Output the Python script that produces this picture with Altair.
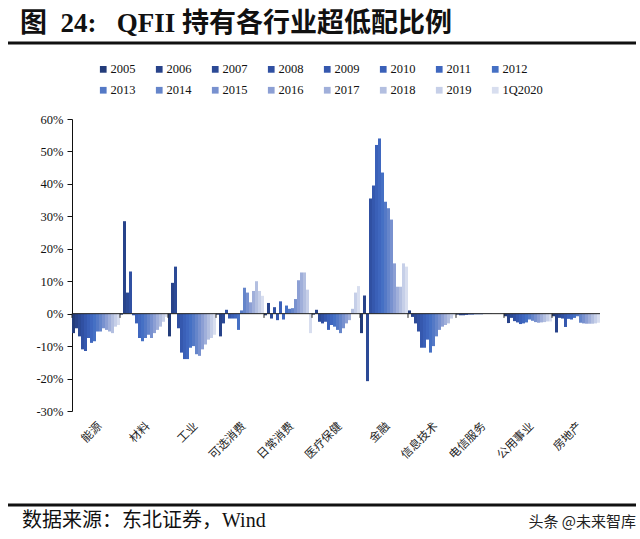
import altair as alt
import pandas as pd

# Sectors and reporting periods
sectors = ["能源", "材料", "工业", "可选消费", "日常消费", "医疗保健",
           "金融", "信息技术", "电信服务", "公用事业", "房地产"]
years = ["2005", "2006", "2007", "2008", "2009", "2010", "2011", "2012",
         "2013", "2014", "2015", "2016", "2017", "2018", "2019", "1Q2020"]

# Over/under-weight ratio (%) per sector, one value per period
energy      = [-6, -4.5, -7, -11, -11.5, -7.5, -9, -8.5, -5.5, -5.5, -4.5, -5, -5.5, -6, -4, -3.5]
materials   = [-0.3, 28.5, 6.5, 13, -0.5, -3, -7.5, -8.5, -7.5, -6.5, -7.5, -6, -5, -4, -2.5, -1]
industrials = [-7, 9.5, 14.5, -4.5, -12, -14, -14, -10.5, -10, -12.5, -13, -11, -9.5, -8, -7.5, -6.5]
cons_disc   = [-0.3, -7, -3, 1.2, -1.5, -1.5, -1.5, -5, 1, 8, 6.5, 3.5, 7, 10, 7, 5.5]
cons_stap   = [-0.5, 3.3, -1.5, 2, -2, 3.8, -1.8, 2.5, 1.5, 1.7, 4.5, 10.3, 12.7, 12.7, 7.4, -6]
healthcare  = [-0.3, 1.2, -2.5, -3, -2.5, -5, -3.5, -4, -5, -6, -4.5, -3, -2, 1.5, 6.5, 8.5]
financials  = [-6, 5.6, -20.8, 35.5, 39.5, 52, 54, 43.5, 34.5, 32.5, 29, 15.5, 8.3, 8.3, 15.5, 14.5]
info_tech   = [1, -1, -3, -5.5, -10.5, -10.5, -8, -12, -10, -7, -5, -4, -3.5, -3, -1.5, -0.5]
telecom     = [-0.3, -0.5, -0.5, -0.4, -0.3, -0.3, -0.2, -0.2, -0.2, -0.1, -0.1, -0.1, 0, 0, 0, 0]
utilities   = [-0.8, -2.9, -1.3, -2.3, -2.7, -3.2, -3, -2.7, -1.8, -2.2, -2.6, -2.8, -2.7, -2.6, -2.4, -2.4]
real_estate = [-0.8, -5.8, -1.3, -1.5, -4.1, -1.6, -1.8, -1.3, -0.8, -2.8, -3, -3.1, -3.1, -3.1, -3, -2.8]

series = [energy, materials, industrials, cons_disc, cons_stap, healthcare,
          financials, info_tech, telecom, utilities, real_estate]

rows = []
for s, vals in zip(sectors, series):
    for y, v in zip(years, vals):
        rows.append({"sector": s, "year": y, "value": v})
df = pd.DataFrame(rows)

palette = ["#233C7A", "#28438A", "#2C4A96", "#3050A2", "#3558AE", "#3A60B8",
           "#3F67BF", "#4570C4", "#5479C6", "#6585CA", "#7891CF", "#8C9FD4",
           "#A0AFDA", "#B3BFE0", "#C6CFE8", "#D8DEEF"]

W, H = 528, 292
serif = "Liberation Serif, Noto Sans CJK SC"
cjk = "Noto Sans CJK SC"
NB = "\u00a0"

x_axis = alt.Axis(labelAngle=-45, domain=False, ticks=False,
                  labelFont=cjk, labelFontSize=11.5, labelColor="#222",
                  labelPadding=9, labelAlign="right", labelBaseline="top")
x_scale = alt.Scale(paddingInner=0, paddingOuter=0)
y_axis = alt.Axis(values=list(range(-30, 61, 10)), grid=False,
                  labelOverlap=False, labelFlush=False,
                  labelExpr="datum.value + '%'", labelFont=serif,
                  labelFontSize=12.5, labelColor="#111", labelPadding=4,
                  domainColor="#111", ticks=True, tickColor="#111", tickSize=5)
y_scale = alt.Scale(domain=[-30, 60], nice=False)

bars = alt.Chart(df).mark_bar().encode(
    x=alt.X("sector:N", sort=sectors, title=None, scale=x_scale, axis=x_axis),
    xOffset=alt.XOffset("year:N", sort=years,
                        scale=alt.Scale(paddingInner=0, paddingOuter=0)),
    y=alt.Y("value:Q", title=None, scale=y_scale, axis=y_axis),
    color=alt.Color("year:N", sort=years,
                    scale=alt.Scale(domain=years, range=palette),
                    legend=alt.Legend(title=None, orient="none", legendX=25, legendY=-56,
                                      direction="horizontal", columns=8,
                                      symbolType="square", symbolSize=45,
                                      symbolStrokeWidth=0, labelFont=serif,
                                      labelFontSize=12.5, labelColor="#111",
                                      labelOffset=1, columnPadding=17, rowPadding=8)),
)

one = pd.DataFrame({"k": [0]})

zero_line = alt.Chart(one).mark_rule(color="#222", strokeWidth=1).encode(
    y=alt.Y(datum=0, title=None, scale=y_scale, axis=y_axis),
    x=alt.value(0), x2=alt.value(W))

bounds = pd.DataFrame({"sector": sectors})
sector_ticks = alt.Chart(bounds).mark_rule(color="#222", strokeWidth=1).encode(
    x=alt.X("sector:N", sort=sectors, bandPosition=0, title=None,
            scale=x_scale, axis=x_axis),
    y=alt.Y(datum=0, title=None, scale=y_scale, axis=y_axis),
    y2=alt.Y2(datum=-1.3))

title_text = "图" + NB * 2 + "24:" + NB * 3 + "QFII" + NB + "持有各行业超低配比例"
title = alt.Chart(pd.DataFrame({"t": [title_text]})).mark_text(
    align="left", baseline="middle", font=serif, fontSize=27, fontWeight="bold",
    color="#111").encode(text="t:N", x=alt.value(-52), y=alt.value(-95))

title_rule = alt.Chart(one).mark_rule(color="#111", strokeWidth=3).encode(
    x=alt.value(-64), x2=alt.value(564), y=alt.value(-76))

foot_rule = alt.Chart(one).mark_rule(color="#111", strokeWidth=3).encode(
    x=alt.value(-64), x2=alt.value(564), y=alt.value(386))

source = alt.Chart(pd.DataFrame({"t": ["数据来源：东北证券，Wind"]})).mark_text(
    align="left", baseline="middle", font=serif, fontSize=20, color="#111").encode(
    text="t:N", x=alt.value(-50), y=alt.value(402))

mark = alt.Chart(pd.DataFrame({"t": ["头条 @未来智库"]})).mark_text(
    align="right", baseline="middle", font=cjk, fontSize=15, color="#222").encode(
    text="t:N", x=alt.value(564), y=alt.value(403))

chart = alt.layer(bars, zero_line, sector_ticks, title, title_rule, foot_rule,
                  source, mark).properties(
    width=W, height=H,
    autosize=alt.AutoSizeParams(type="none"),
    padding={"left": 72, "top": 119, "right": 40, "bottom": 128},
    background="white",
).configure_view(stroke=None)

chart.save("out.html", embed_options={"renderer": "svg", "actions": False})
